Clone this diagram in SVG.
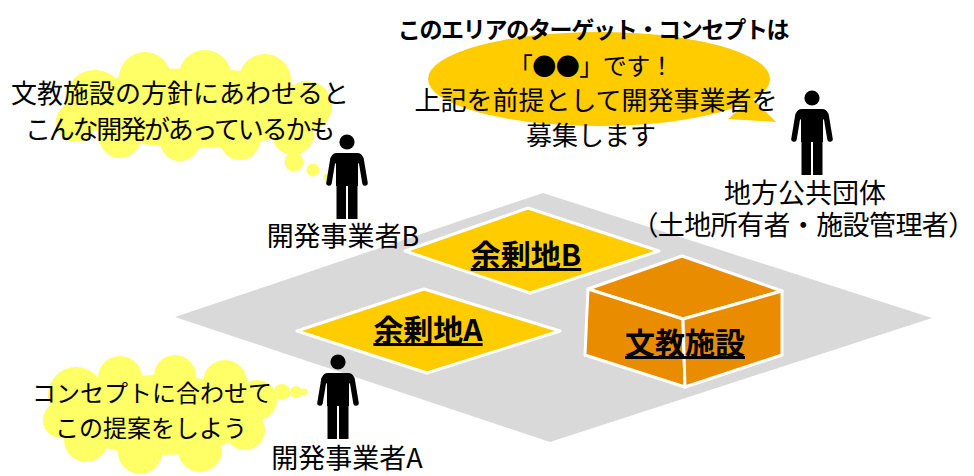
<svg xmlns="http://www.w3.org/2000/svg" width="974" height="476" viewBox="0 0 974 476">
  <defs>
    <style>
      .t { font-family: "Noto Sans CJK JP", "Noto Sans", sans-serif; fill: #000; text-anchor: middle; }
      .b { font-weight: bold; }
      .u { font-weight: bold; text-decoration: underline; }
      .ground { fill: #D9D9D9; }
      .lot { fill: #FFCC00; stroke: #FFFFFF; stroke-width: 3; stroke-linejoin: round; }
      .bld { fill: #EA8C00; stroke: #FFFFFF; stroke-width: 3; stroke-linejoin: round; }
      .cloud { fill: #FFFF66; }
      .speech { fill: #FFCC00; }
      .arm { stroke: #000; stroke-width: 5.5; stroke-linecap: round; fill: none; }
    </style>
    <!-- standing person pictogram, head centre at origin, feet at y=77 -->
    <g id="person">
      <circle cx="0" cy="0" r="7.6" fill="#000"/>
      <path d="M -10,11 H 10 Q 15,11 16,16 L 11,22 V 44 H -11 V 22 L -16,16 Q -15,11 -10,11 Z" fill="#000"/>
      <line class="arm" x1="-14" y1="17" x2="-18" y2="41"/>
      <line class="arm" x1="14" y1="17" x2="18" y2="41"/>
      <path d="M -10.5,38 H -1 V 77 H -10.5 Z M 1,38 H 10.5 V 77 H 1 Z" fill="#000"/>
    </g>
  </defs>

  <rect width="974" height="476" fill="#FFFFFF"/>

  <!-- site ground -->
  <g id="site">
    <polygon class="ground" points="175,317 543,193 932,318 550,442"/>
  </g>

  <!-- surplus lot A -->
  <g id="lot-a">
    <polygon class="lot" points="297,331 424,289 560,331 427,373"/>
    <text class="t u" x="428" y="341" font-size="30">余剰地A</text>
  </g>

  <!-- surplus lot B -->
  <g id="lot-b">
    <polygon class="lot" points="405,251 528,208 659,251 530,293"/>
    <text class="t u" x="526" y="266" font-size="30">余剰地B</text>
  </g>

  <!-- school facility block -->
  <g id="school">
    <polygon class="bld" points="682,256 782,291 683,319 588,289"/>
    <polygon class="bld" points="588,289 683,319 685,387 585,355"/>
    <polygon class="bld" points="683,319 782,291 782,355 685,387"/>
    <text class="t u" x="685" y="354" font-size="30">文教施設</text>
  </g>

  <!-- local government: speech bubble -->
  <g id="gov-speech">
    <ellipse class="speech" cx="599" cy="79" rx="171" ry="47"/>
    <path class="speech" d="M 752,98 L 776,122 L 728,119 Z"/>
    <text class="t b" x="593" y="38" font-size="23" letter-spacing="-1.3">このエリアのターゲット・コンセプトは</text>
    <text class="t" x="591" y="75" font-size="24" letter-spacing="-0.5">「●●」です！</text>
    <text class="t" x="596" y="110" font-size="26">上記を前提として開発事業者を</text>
    <text class="t" x="591" y="145" font-size="26">募集します</text>
  </g>

  <!-- local government -->
  <g id="gov">
    <use href="#person" x="812" y="98"/>
    <text class="t" x="805" y="203" font-size="27">地方公共団体</text>
    <text class="t" x="803" y="235" font-size="27" letter-spacing="-0.6">（土地所有者・施設管理者）</text>
  </g>

  <!-- developer B thought cloud -->
  <g id="dev-b-thought">
    <g class="cloud">
      <ellipse cx="195" cy="108" rx="120" ry="40"/>
      <circle cx="95" cy="100" r="30"/>
      <circle cx="76" cy="122" r="20"/>
      <circle cx="145" cy="78" r="26"/>
      <circle cx="205" cy="76" r="26"/>
      <circle cx="265" cy="80" r="26"/>
      <circle cx="307" cy="106" r="25"/>
      <circle cx="293" cy="134" r="21"/>
      <circle cx="240" cy="140" r="20"/>
      <circle cx="180" cy="141" r="20"/>
      <circle cx="120" cy="137" r="21"/>
      <circle cx="294" cy="162" r="9.5"/>
      <circle cx="313" cy="170" r="6.5"/>
      <circle cx="327" cy="177" r="3.5"/>
    </g>
    <text class="t" x="180" y="103" font-size="26">文教施設の方針にあわせると</text>
    <text class="t" x="179" y="139" font-size="26" letter-spacing="-2.2">こんな開発があっているかも</text>
  </g>

  <!-- developer B -->
  <g id="dev-b">
    <use href="#person" x="347" y="142"/>
    <text class="t" x="343" y="246" font-size="27">開発事業者B</text>
  </g>

  <!-- developer A thought cloud -->
  <g id="dev-a-thought">
    <g class="cloud">
      <ellipse cx="160" cy="415" rx="95" ry="40"/>
      <circle cx="76" cy="395" r="28"/>
      <circle cx="61" cy="420" r="18"/>
      <circle cx="120" cy="378" r="22"/>
      <circle cx="175" cy="376" r="21"/>
      <circle cx="225" cy="382" r="22"/>
      <circle cx="257" cy="400" r="20"/>
      <circle cx="245" cy="430" r="20"/>
      <circle cx="200" cy="450" r="22"/>
      <circle cx="140" cy="452" r="22"/>
      <circle cx="86" cy="440" r="22"/>
      <circle cx="282" cy="392" r="8"/>
      <circle cx="296" cy="392" r="6"/>
      <circle cx="304" cy="392" r="3.5"/>
    </g>
    <text class="t" x="152" y="402" font-size="24">コンセプトに合わせて</text>
    <text class="t" x="151" y="437" font-size="24">この提案をしよう</text>
  </g>

  <!-- developer A -->
  <g id="dev-a">
    <use href="#person" x="338" y="362"/>
    <text class="t" x="347" y="468" font-size="27">開発事業者A</text>
  </g>
</svg>
